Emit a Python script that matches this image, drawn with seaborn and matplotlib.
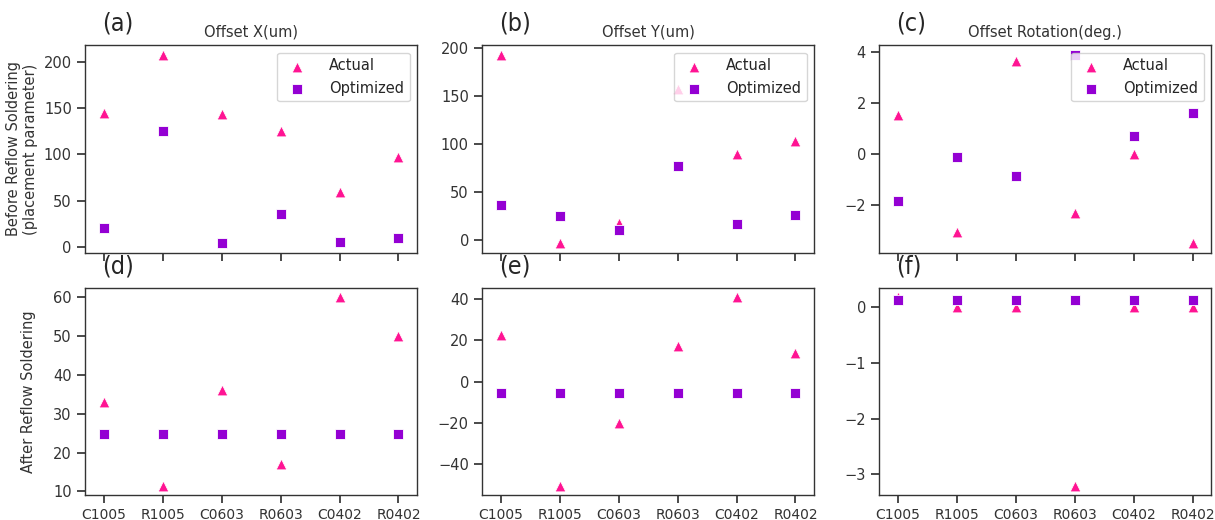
import numpy as np
import matplotlib
matplotlib.use("Agg")
import matplotlib.pyplot as plt
import seaborn as sns

components = ["C1005", "R1005", "C0603", "R0603", "C0402", "R0402"]

# before reflow soldering (placement parameter)
before_x_actual = [145, 208, 144, 125, 59, 97]
before_x_opt = [20, 125, 4, 35, 5, 10]
before_y_actual = [193, -3, 18, 157, 90, 103]
before_y_opt = [37, 25, 11, 77, 17, 26]
before_rot_actual = [1.55, -3.05, 3.65, -2.3, 0.0, -3.5]
before_rot_opt = [-1.85, -0.12, -0.88, 3.9, 0.72, 1.6]

# after reflow soldering
after_x_actual = [33, 11.5, 36, 17, 60, 50]
after_x_opt = [24.8, 24.8, 24.8, 24.8, 24.8, 24.8]
after_y_actual = [22.5, -50.5, -20, 17.5, 41, 14]
after_y_opt = [-5.5, -5.5, -5.5, -5.5, -5.5, -5.5]
after_rot_actual = [0.18, 0.0, 0.0, -3.2, 0.0, 0.0]
after_rot_opt = [0.13, 0.13, 0.13, 0.13, 0.13, 0.13]

titles = ["Offset X(um)", "Offset Y(um)", "Offset Rotation(deg.)"]
panel_tags = ["(a)", "(b)", "(c)", "(d)", "(e)", "(f)"]

sns.set_theme(style="ticks", rc={
    "axes.edgecolor": "#333333",
    "axes.linewidth": 1.0,
    "xtick.color": "#333333",
    "ytick.color": "#333333",
    "xtick.labelsize": 10,
    "ytick.labelsize": 10.5,
})
plt.rcParams['font.family'] = ['DejaVu Sans']

fig, axes = plt.subplots(2, 3, figsize=(12.15, 5.2), dpi=100, sharex=True)
fig.subplots_adjust(left=0.07, right=0.997, top=0.913, bottom=0.048,
                    wspace=0.195, hspace=0.17)

top = [(before_x_actual, before_x_opt), (before_y_actual, before_y_opt),
       (before_rot_actual, before_rot_opt)]
bottom = [(after_x_actual, after_x_opt), (after_y_actual, after_y_opt),
          (after_rot_actual, after_rot_opt)]

for row, data in enumerate([top, bottom]):
    for col, (act, opt) in enumerate(data):
        ax = axes[row, col]
        sns.scatterplot(x=components, y=act, marker="^", color="deeppink",
                        s=60, edgecolor="white", linewidth=0.6,
                        label="Actual", ax=ax, zorder=3)
        sns.scatterplot(x=components, y=opt, marker="s", color="darkviolet",
                        s=60, edgecolor="white", linewidth=0.6,
                        label="Optimized", ax=ax, zorder=3)
        ax.set_xlim(-0.32, 5.32)
        ax.text(0.05, 1.07, panel_tags[row * 3 + col], transform=ax.transAxes,
                fontsize=18, fontstretch="condensed",
                family=["Liberation Sans Narrow", "DejaVu Sans"])
        if row == 0:
            ax.set_title(titles[col], fontsize=10.5, color="#333333", pad=6)
            ax.legend(loc="upper right", fontsize=10.5, framealpha=0.8,
                      handletextpad=1.2, borderpad=0.4)
        else:
            ax.get_legend().remove()

axes[0, 0].set_ylabel("Before Reflow Soldering\n(placement parameter)",
                      fontsize=10.5, color="#333333")
axes[1, 0].set_ylabel("After Reflow Soldering", fontsize=10.5, color="#333333",
                      labelpad=12)
axes[0, 1].set_yticks([0, 50, 100, 150, 200])
axes[1, 2].set_yticks([-3, -2, -1, 0])

fig.savefig("out.png", dpi=100)
